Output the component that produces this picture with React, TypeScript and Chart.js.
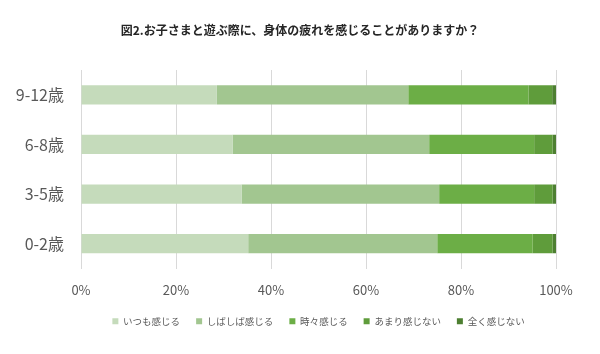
import React, { useEffect, useRef } from "react";
import { Chart, registerables } from "chart.js";

Chart.register(...registerables);

const title = "図2.お子さまと遊ぶ際に、身体の疲れを感じることがありますか？";
const categories = ["9-12歳", "6-8歳", "3-5歳", "0-2歳"];
const seriesNames = ["いつも感じる", "しばしば感じる", "時々感じる", "あまり感じない", "全く感じない"];
const always = [28.6, 31.9, 33.8, 35.2];
const often = [40.3, 41.4, 41.6, 39.8];
const sometimes = [25.3, 22.1, 20.0, 20.1];
const rarely = [5.0, 3.9, 3.9, 4.2];
const never = [0.8, 0.7, 0.7, 0.7];
const seriesColors = ["#c5dbbb", "#a2c690", "#6cae46", "#5f9c3b", "#4d7f31"];

const fontFamily = "'Noto Sans CJK JP', 'Noto Sans', sans-serif";

const titlePlugin = {
  id: "centeredTitle",
  afterDraw(chart: any) {
    const ctx = chart.ctx;
    ctx.save();
    ctx.font = `bold 12px ${fontFamily}`;
    ctx.fillStyle = "#262626";
    ctx.textAlign = "center";
    ctx.textBaseline = "middle";
    ctx.fillText(title, chart.width / 2, 30);
    ctx.restore();
  },
};

export default function App() {
  const ref = useRef<HTMLCanvasElement>(null);
  useEffect(() => {
    const values = [always, often, sometimes, rarely, never];
    const chart = new Chart(ref.current!, {
      type: "bar",
      data: {
        labels: categories,
        datasets: seriesNames.map((name, i) => ({
          label: name,
          data: values[i],
          backgroundColor: seriesColors[i],
          borderWidth: 0,
          categoryPercentage: 0.39,
          barPercentage: 1.0,
        })),
      },
      plugins: [titlePlugin],
      options: {
        indexAxis: "y",
        animation: false,
        responsive: false,
        maintainAspectRatio: false,
        layout: { padding: { left: 0, right: 44, top: 70, bottom: 18 } },
        plugins: {
          title: { display: false },
          legend: {
            position: "bottom",
            fullSize: false,
            labels: {
              boxWidth: 6,
              boxHeight: 6,
              padding: 16,
              color: "#595959",
              font: { family: fontFamily, size: 9.5 },
            },
          },
          tooltip: { enabled: false },
        },
        scales: {
          x: {
            stacked: true,
            min: 0,
            max: 100,
            ticks: {
              stepSize: 20,
              callback: (v: any) => v + "%",
              color: "#595959",
              font: { family: fontFamily, size: 13 },
              padding: 14,
            },
            grid: { color: "#d9d9d9", drawTicks: false },
            border: { display: false },
            afterFit: (s: any) => {
              s.height = 32;
            },
          },
          y: {
            stacked: true,
            ticks: {
              color: "#595959",
              font: { family: fontFamily, size: 16 },
              padding: 17,
            },
            grid: { display: false, drawTicks: false },
            border: { display: true, color: "#d9d9d9" },
            afterFit: (s: any) => {
              s.width = 81;
            },
          },
        },
      },
    });
    return () => chart.destroy();
  }, []);
  return (
    <div style={{ position: "fixed", left: 0, top: 0, width: 600, height: 354, background: "#fff" }}>
      <canvas ref={ref} width={600} height={354} style={{ width: 600, height: 354 }} />
    </div>
  );
}
